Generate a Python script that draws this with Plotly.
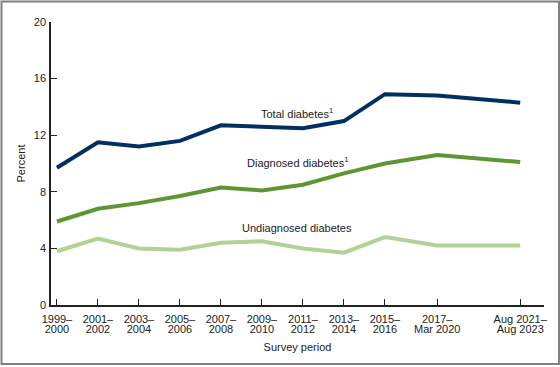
import plotly.graph_objects as go

# Survey periods: midpoint year (x position) and tick labels (two lines each)
period_mid = [2000, 2002, 2004, 2006, 2008, 2010, 2012, 2014, 2016, 2018.55, 2022.6]
period_line1 = ["1999–", "2001–", "2003–", "2005–", "2007–", "2009–", "2011–", "2013–",
                "2015–", "2017–", "Aug 2021–"]
period_line2 = ["2000", "2002", "2004", "2006", "2008", "2010", "2012", "2014",
                "2016", "Mar 2020", "Aug 2023"]

total_diabetes = [9.7, 11.5, 11.2, 11.6, 12.7, 12.6, 12.5, 13.0, 14.9, 14.8, 14.3]
diagnosed_diabetes = [5.9, 6.8, 7.2, 7.7, 8.3, 8.1, 8.5, 9.3, 10.0, 10.6, 10.1]
undiagnosed_diabetes = [3.8, 4.7, 4.0, 3.9, 4.4, 4.5, 4.0, 3.7, 4.8, 4.2, 4.2]

y_ticks = [0, 4, 8, 12, 16, 20]

FONT = "Arial, Liberation Sans, sans-serif"
TXT = "#222"
X_RANGE = [1999.71, 2023.76]
tick_font = dict(family=FONT, size=11, color=TXT)

fig = go.Figure()
fig.add_trace(go.Scatter(x=period_mid, y=undiagnosed_diabetes, mode="lines",
                         line=dict(color="#b3d195", width=4), name="Undiagnosed diabetes"))
fig.add_trace(go.Scatter(x=period_mid, y=diagnosed_diabetes, mode="lines",
                         line=dict(color="#5e9732", width=4), name="Diagnosed diabetes"))
fig.add_trace(go.Scatter(x=period_mid, y=total_diabetes, mode="lines",
                         line=dict(color="#003060", width=4), name="Total diabetes"))
# carrier for second line of tick labels
fig.add_trace(go.Scatter(x=[], y=[], xaxis="x2", yaxis="y", showlegend=False, hoverinfo="skip"))

ann_font = dict(family=FONT, size=11, color=TXT)
fig.add_annotation(x=2011.73, y=13.6, text="Total diabetes<sup>1</sup>", showarrow=False, font=ann_font)
fig.add_annotation(x=2011.76, y=10.1, text="Diagnosed diabetes<sup>1</sup>", showarrow=False, font=ann_font)
fig.add_annotation(x=2011.73, y=5.45, text="Undiagnosed diabetes", showarrow=False, font=ann_font)

# outer frame
fig.add_shape(type="rect", xref="paper", yref="paper",
              x0=-0.1004, x1=1.0304, y0=-0.2085, y1=1.0724,
              line=dict(color="#808080", width=2), fillcolor="rgba(0,0,0,0)", layer="below")

fig.update_layout(
    width=560, height=367,
    margin=dict(l=51, r=16, t=22, b=62, autoexpand=False),
    paper_bgcolor="white", plot_bgcolor="white",
    showlegend=False,
    font=dict(family=FONT, size=11, color=TXT),
    xaxis=dict(range=X_RANGE, tickvals=period_mid, ticktext=period_line1, tickfont=tick_font,
               ticks="inside", ticklen=6, tickcolor=TXT, showline=True, linecolor=TXT,
               linewidth=1.5, showgrid=False, zeroline=False, automargin=False,
               ticklabelstandoff=3,
               title=dict(text="Survey period", standoff=19, font=dict(size=11, color=TXT))),
    xaxis2=dict(range=X_RANGE, tickvals=period_mid, ticktext=period_line2, tickfont=tick_font,
                overlaying="x", anchor="y", side="bottom", ticks="", showline=False,
                showgrid=False, zeroline=False, automargin=False, ticklabelstandoff=16),
    yaxis=dict(range=[0, 20], tickvals=y_ticks, tickfont=tick_font, ticks="inside", ticklen=6,
               tickcolor=TXT, showline=True, linecolor=TXT, linewidth=1.5, showgrid=False,
               zeroline=False, automargin=False, ticklabelstandoff=1,
               title=dict(text="Percent", standoff=6, font=dict(size=11, color=TXT))),
)

fig.write_html("out.html", config={"displayModeBar": False},
               post_script="document.body.style.margin='0';document.body.style.padding='0';")
